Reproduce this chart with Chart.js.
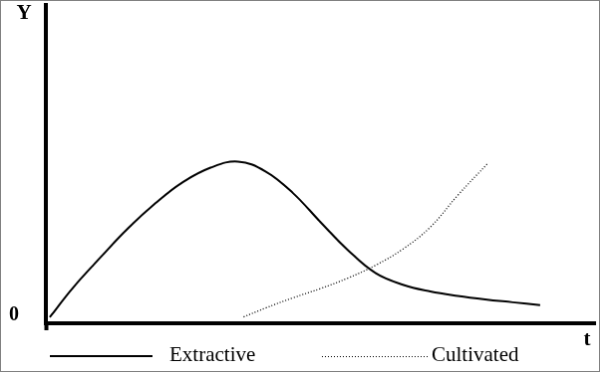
<!DOCTYPE html>
<html>
<head>
<meta charset="utf-8">
<script src="https://cdn.jsdelivr.net/npm/chart.js@4/dist/chart.umd.min.js"></script>
<style>
    body { margin: 0; background: #fff; }
    #chart { display: block; border: 1px solid #808080; }
</style>
</head>
<body>
<canvas id="chart" width="600" height="372"></canvas>
<script>
// curve data (t from 0 to 100, Y from 0 to 100)
const extractiveT = [0.7, 5, 10, 15, 20, 25, 30, 35, 40, 45, 50, 55, 60, 65, 70, 75, 80, 85, 90];
const extractiveY = [1.9, 11.3, 20.8, 29.9, 37.8, 44.4, 48.9, 50.8, 47.7, 40.9, 31.8, 23.0, 15.8, 12.1, 10.0, 8.6, 7.5, 6.6, 5.7];

const cultivatedT = [36, 40, 45, 50, 55, 60, 65, 70, 75, 80.6];
const cultivatedY = [2.0, 4.8, 8.0, 10.9, 14.2, 18.2, 23.3, 30.2, 40.2, 50.5];

const seriesLabels = ['Extractive', 'Cultivated'];
const yTickValues = [0];
const yTickLabels = ['0'];
const xAxisName = 't';
const yAxisName = 'Y';

const SERIF = "'Liberation Serif', 'Times New Roman', serif";

// where the hand-made legend sits (canvas px)
const legendLayout = [
    { x0: 49, x1: 152, y: 357, textX: 169 },
    { x0: 322, x1: 429, y: 357.5, textX: 432 }
];

const toPoints = (xs, ys) => xs.map((x, i) => ({ x: x, y: ys[i] }));

// legend + axis letters, drawn after the chart
const extrasPlugin = {
    id: 'extras',
    afterDraw(chart) {
        const ctx = chart.ctx;
        const area = chart.chartArea;
        ctx.save();

        chart.data.datasets.forEach((ds, i) => {
            const pos = legendLayout[i];
            ctx.beginPath();
            ctx.strokeStyle = ds.borderColor;
            ctx.lineWidth = Math.round(ds.borderWidth);
            ctx.setLineDash(ds.borderDash || []);
            ctx.moveTo(pos.x0, pos.y);
            ctx.lineTo(pos.x1, pos.y);
            ctx.stroke();
            ctx.setLineDash([]);

            ctx.fillStyle = '#000';
            ctx.font = '21px ' + SERIF;
            ctx.textAlign = 'left';
            ctx.textBaseline = 'alphabetic';
            ctx.fillText(ds.label, pos.textX, 361.5);
        });

        ctx.font = 'bold 21px ' + SERIF;
        ctx.textAlign = 'center';
        ctx.textBaseline = 'alphabetic';
        ctx.fillStyle = '#000';
        ctx.fillText(yAxisName, area.left - 22, 18);
        ctx.fillText(xAxisName, area.right - 8, area.bottom + 22);
        ctx.restore();
    }
};

new Chart(document.getElementById('chart'), {
    type: 'line',
    data: {
        datasets: [
            {
                label: seriesLabels[0],
                data: toPoints(extractiveT, extractiveY),
                borderColor: '#000',
                borderWidth: 2,
                pointRadius: 0,
                tension: 0.4
            },
            {
                label: seriesLabels[1],
                data: toPoints(cultivatedT, cultivatedY),
                borderColor: '#000',
                borderWidth: 1.3,
                borderDash: [1, 2],
                pointRadius: 0,
                tension: 0.4
            }
        ]
    },
    options: {
        responsive: false,
        animation: false,
        devicePixelRatio: 1,
        layout: { padding: { top: 4, right: 4, left: 0, bottom: 0 } },
        plugins: {
            legend: { display: false },
            tooltip: { enabled: false }
        },
        scales: {
            x: {
                type: 'linear',
                min: 0,
                max: 100,
                border: { display: true, width: 4, color: '#000' },
                grid: {
                    display: true,
                    drawOnChartArea: false,
                    drawTicks: true,
                    tickLength: 7,
                    tickWidth: 4,
                    tickColor: '#000'
                },
                ticks: { display: false },
                afterBuildTicks: (axis) => { axis.ticks = [{ value: 0 }]; },
                afterFit: (axis) => {
                    axis.height = 48;
                    axis.paddingLeft = 0;
                    axis.paddingRight = 0;
                }
            },
            y: {
                type: 'linear',
                min: 0,
                max: 100,
                border: { display: true, width: 4, color: '#000' },
                grid: { display: false, drawTicks: false },
                ticks: {
                    padding: 27,
                    labelOffset: -8,
                    color: '#000',
                    font: { family: SERIF, size: 20, weight: 'bold' },
                    callback: (value) => yTickLabels[yTickValues.indexOf(value)]
                },
                afterBuildTicks: (axis) => { axis.ticks = yTickValues.map(v => ({ value: v })); },
                afterFit: (axis) => {
                    axis.width = 45;
                    axis.paddingTop = 0;
                    axis.paddingBottom = 0;
                }
            }
        }
    },
    plugins: [extrasPlugin]
});
</script>
</body>
</html>
